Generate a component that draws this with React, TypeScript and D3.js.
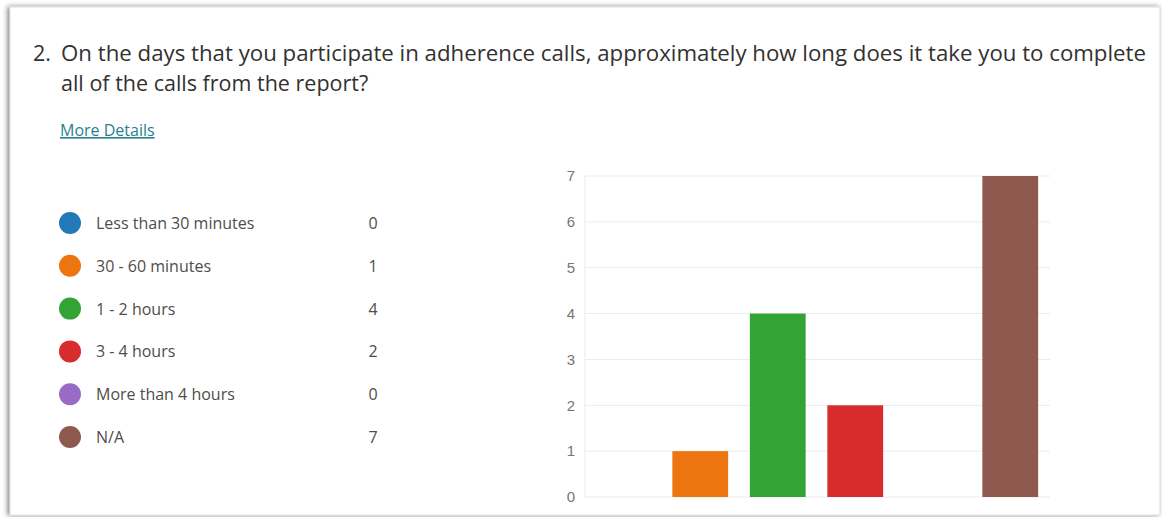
import { useEffect, useRef } from "react";
import * as d3 from "d3";

const categories = ["Less than 30 minutes", "30 - 60 minutes", "1 - 2 hours", "3 - 4 hours", "More than 4 hours", "N/A"];
const counts = [0, 1, 4, 2, 0, 7];
const colors = ["#2279B7", "#EC7510", "#34A335", "#D82C2C", "#9A6BC5", "#8E5A4F"];
const yTicks = [0, 1, 2, 3, 4, 5, 6, 7];
const titleLines = [
  "On the days that you participate in adherence calls, approximately how long does it take you to complete",
  "all of the calls from the report?",
];

const uiFont = "'Segoe UI', 'Open Sans', 'Noto Sans', sans-serif";

const App = () => {
  const svgRef = useRef<SVGSVGElement>(null);

  useEffect(() => {
    const w = 1162;
    const h = 517;
    const svg = d3.select(svgRef.current).attr("width", w).attr("height", h);
    svg.selectAll("*").remove();

    // card with soft shadow
    const defs = svg.append("defs");
    const f = defs.append("filter").attr("id", "shadow").attr("x", "-5%").attr("y", "-5%").attr("width", "110%").attr("height", "110%");
    f.append("feDropShadow").attr("dx", -2).attr("dy", 0).attr("stdDeviation", 2.5).attr("flood-color", "#000").attr("flood-opacity", 0.5);

    svg.append("rect").attr("x", 10).attr("y", 7).attr("width", 1150).attr("height", 508)
      .attr("fill", "#fff").attr("stroke", "#dcdcdc").attr("stroke-width", 1)
      .attr("filter", "url(#shadow)");

    // title
    svg.append("text").attr("x", 33).attr("y", 61).attr("font-family", uiFont).attr("font-size", 21.5)
      .attr("fill", "#323130").text("2.");
    svg.selectAll(".title").data(titleLines).join("text")
      .attr("class", "title")
      .attr("x", 61).attr("y", (d, i) => 61 + i * 30)
      .attr("font-family", uiFont).attr("font-size", 21.5).attr("fill", "#323130")
      .attr("textLength", (d, i) => (i === 0 ? 1085 : null))
      .attr("lengthAdjust", "spacingAndGlyphs")
      .text((d) => d);

    svg.append("text").attr("x", 60).attr("y", 136).attr("font-family", uiFont).attr("font-size", 16)
      .attr("fill", "#2B8090").attr("text-decoration", "underline").text("More Details");

    // legend
    const legend = svg.append("g");
    const rowY = d3.scalePoint().domain(categories).range([223, 437]);
    const rows = legend.selectAll("g").data(categories).join("g")
      .attr("transform", (d) => `translate(0,${rowY(d)})`);
    rows.append("circle").attr("cx", 70).attr("cy", 0).attr("r", 11).attr("fill", (d, i) => colors[i]);
    rows.append("text").attr("x", 96).attr("y", 6).attr("font-family", uiFont).attr("font-size", 16)
      .attr("fill", "#4f4d4b").text((d) => d);
    rows.append("text").attr("x", 373).attr("y", 6).attr("text-anchor", "middle").attr("font-family", uiFont)
      .attr("font-size", 16).attr("fill", "#4f4d4b").text((d, i) => counts[i]);

    // bar chart
    const xScale = d3.scaleBand().domain(categories).range([584, 1049]).paddingInner(0.28).paddingOuter(0.14);
    const yScale = d3.scaleLinear().domain([0, 7]).range([497, 176]);

    svg.append("g").selectAll("line").data(yTicks).join("line")
      .attr("x1", 585).attr("x2", 1050)
      .attr("y1", (d) => yScale(d)).attr("y2", (d) => yScale(d))
      .attr("stroke", "#ebebeb").attr("stroke-width", 1);
    svg.append("line").attr("x1", 585).attr("x2", 585).attr("y1", 176).attr("y2", 497)
      .attr("stroke", "#ebebeb");

    const yAxis = d3.axisLeft(yScale).tickValues(yTicks).tickSize(0).tickPadding(12).tickFormat(d3.format("d"));
    const ax = svg.append("g").attr("transform", "translate(580,0)").call(yAxis);
    ax.select(".domain").remove();
    ax.selectAll("text").attr("fill", "#767676").attr("font-family", "Arial, 'Liberation Sans', sans-serif")
      .attr("font-size", 15).attr("text-anchor", "middle").attr("dx", 3);

    svg.append("g").selectAll("rect").data(categories).join("rect")
      .attr("x", (d) => xScale(d) as number)
      .attr("width", xScale.bandwidth())
      .attr("y", (d, i) => yScale(counts[i]))
      .attr("height", (d, i) => yScale(0) - yScale(counts[i]))
      .attr("fill", (d, i) => colors[i]);
  }, []);

  return (
    <svg ref={svgRef} style={{ position: "absolute", left: 0, top: 0, display: "block", background: "#fff" }}></svg>
  );
};

export default App;
